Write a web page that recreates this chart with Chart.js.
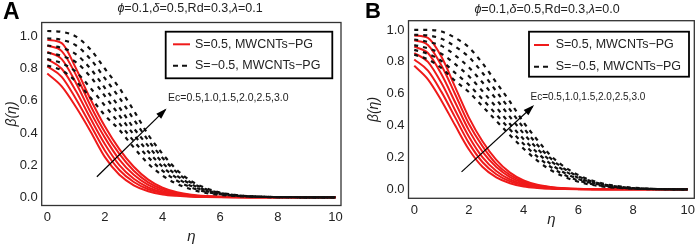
<!DOCTYPE html>
<html>
<head>
<meta charset="utf-8">
<script src="https://cdn.jsdelivr.net/npm/chart.js@4.4.0/dist/chart.umd.min.js"></script>
<style>
  body { margin:0; background:#fff; width:699px; height:246px; overflow:hidden; position:relative; font-family:"Liberation Sans", Arial, sans-serif; }
  canvas { position:absolute; top:0; }
  .tag { position:absolute; font-weight:bold; line-height:1; color:#000; }
  .ttl { position:absolute; font-size:12.5px; line-height:12.5px; color:#222; white-space:nowrap; transform:translateX(-50%); }
</style>
</head>
<body>
<canvas id="chartA" width="349" height="246" style="left:0;width:349px;height:246px"></canvas>
<canvas id="chartB" width="350" height="246" style="left:349px;width:350px;height:246px"></canvas>
<div class="tag" style="left:3px;top:0;font-size:23px">A</div>
<div class="tag" style="left:365px;top:0;font-size:22px">B</div>
<div class="ttl" style="left:190px;top:2px"><i>ϕ</i>=0.1,<i>δ</i>=0.5,Rd=0.3,<i>λ</i>=0.1</div>
<div class="ttl" style="left:547px;top:3px"><i>ϕ</i>=0.1,<i>δ</i>=0.5,Rd=0.3,<i>λ</i>=0.0</div>
<script>
// eta grid shared by every curve
const eta = [0,0.5,1,1.5,2,2.5,3,3.5,4,4.5,5,5.5,6,6.5,7,7.5,8,8.5,9,9.5,10];
const xTicks = [0,2,4,6,8,10];
const yTicks = [0,0.2,0.4,0.6,0.8,1.0];
const ecLabel = 'Ec=0.5,1.0,1.5,2.0,2.5,3.0';
const legendLabels = ['S=0.5, MWCNTs\u2212PG', 'S=\u22120.5, MWCNTs\u2212PG'];

// panel A (lambda = 0.1), S = 0.5, Ec = 0.5 .. 3.0
const aRed05 = [0.77,0.69,0.56,0.41,0.25,0.14,0.075,0.038,0.018,0.009,0.004,0.002,0.001,0.0005,0,0,0,0,0,0,0];
const aRed10 = [0.815,0.75,0.61,0.45,0.29,0.17,0.095,0.05,0.025,0.012,0.006,0.003,0.0015,0.0007,0.0003,0,0,0,0,0,0];
const aRed15 = [0.86,0.80,0.66,0.49,0.33,0.20,0.115,0.062,0.032,0.016,0.008,0.004,0.002,0.001,0.0004,0,0,0,0,0,0];
const aRed20 = [0.905,0.86,0.71,0.53,0.37,0.235,0.14,0.077,0.04,0.021,0.01,0.005,0.0025,0.0012,0.0005,0,0,0,0,0,0];
const aRed25 = [0.945,0.91,0.76,0.57,0.405,0.27,0.165,0.093,0.05,0.026,0.013,0.0065,0.003,0.0015,0.0006,0,0,0,0,0,0];
const aRed30 = [0.98,0.96,0.80,0.61,0.44,0.30,0.19,0.11,0.06,0.032,0.016,0.008,0.004,0.002,0.0008,0.0003,0,0,0,0,0];
// panel A, S = -0.5
const aBlk05 = [0.82,0.79,0.72,0.62,0.51,0.42,0.31,0.21,0.135,0.083,0.049,0.027,0.015,0.008,0.004,0.002,0.001,0.0005,0,0,0];
const aBlk10 = [0.86,0.835,0.78,0.68,0.57,0.46,0.35,0.25,0.165,0.103,0.061,0.034,0.019,0.01,0.005,0.0025,0.001,0.0005,0,0,0];
const aBlk15 = [0.90,0.88,0.84,0.75,0.63,0.51,0.39,0.285,0.19,0.12,0.07,0.04,0.021,0.011,0.0055,0.0027,0.0012,0.0005,0,0,0];
const aBlk20 = [0.945,0.93,0.89,0.80,0.68,0.56,0.43,0.32,0.215,0.135,0.08,0.045,0.024,0.012,0.006,0.003,0.0013,0.0005,0,0,0];
const aBlk25 = [0.99,0.98,0.945,0.86,0.74,0.62,0.485,0.355,0.245,0.155,0.09,0.051,0.027,0.014,0.0065,0.003,0.0014,0.0005,0,0,0];
const aBlk30 = [1.035,1.03,1.0,0.92,0.80,0.68,0.54,0.39,0.27,0.17,0.10,0.057,0.03,0.015,0.007,0.003,0.0015,0.0005,0,0,0];

// panel B (lambda = 0.0), S = 0.5
const bRed05 = [0.775,0.69,0.555,0.40,0.25,0.14,0.075,0.038,0.018,0.009,0.004,0.002,0.001,0.0005,0,0,0,0,0,0,0];
const bRed10 = [0.815,0.745,0.61,0.45,0.29,0.17,0.095,0.05,0.025,0.012,0.006,0.003,0.0015,0.0007,0.0003,0,0,0,0,0,0];
const bRed15 = [0.855,0.80,0.665,0.495,0.33,0.20,0.115,0.062,0.032,0.016,0.008,0.004,0.002,0.001,0.0004,0,0,0,0,0,0];
const bRed20 = [0.895,0.855,0.72,0.545,0.37,0.235,0.14,0.077,0.04,0.021,0.01,0.005,0.0025,0.0012,0.0005,0,0,0,0,0,0];
const bRed25 = [0.935,0.905,0.775,0.595,0.41,0.27,0.16,0.09,0.048,0.025,0.012,0.006,0.003,0.0015,0.0006,0,0,0,0,0,0];
const bRed30 = [0.965,0.95,0.83,0.64,0.45,0.30,0.185,0.105,0.056,0.029,0.015,0.007,0.0035,0.0017,0.0007,0.0003,0,0,0,0,0];
// panel B, S = -0.5
const bBlk05 = [0.845,0.815,0.76,0.68,0.61,0.52,0.43,0.34,0.255,0.18,0.12,0.078,0.048,0.028,0.016,0.009,0.004,0.002,0.001,0,0];
const bBlk10 = [0.875,0.85,0.805,0.73,0.655,0.565,0.47,0.375,0.285,0.205,0.14,0.09,0.056,0.033,0.019,0.01,0.005,0.0025,0.001,0.0005,0];
const bBlk15 = [0.905,0.885,0.85,0.785,0.71,0.615,0.515,0.41,0.315,0.23,0.158,0.103,0.065,0.039,0.023,0.012,0.006,0.003,0.0012,0.0005,0];
const bBlk20 = [0.94,0.925,0.90,0.84,0.765,0.67,0.565,0.455,0.35,0.255,0.177,0.116,0.073,0.044,0.026,0.014,0.007,0.0035,0.0015,0.0005,0];
const bBlk25 = [0.97,0.965,0.945,0.895,0.83,0.73,0.615,0.50,0.385,0.28,0.193,0.128,0.081,0.049,0.029,0.016,0.008,0.004,0.0017,0.0006,0];
const bBlk30 = [1.0,1.0,0.99,0.95,0.89,0.79,0.67,0.55,0.42,0.31,0.21,0.14,0.09,0.055,0.033,0.019,0.01,0.005,0.002,0.001,0];

// direction arrows (eta, beta)
const arrowA = [[1.72,0.128],[4.09,0.544]];
const arrowB = [[1.73,0.11],[4.33,0.52]];
const ecAtA = [4.19,0.616];
const ecAtB = [4.25,0.58];

const FONT = '"Liberation Sans", Arial, sans-serif';
const RED = '#ef1a1a';
const BLK = '#111';

const pts = arr => eta.map((e, i) => ({x: e, y: arr[i]}));

// frame, arrow head, Ec label and boxed legend
const decor = {
  id: 'decor',
  afterDatasetsDraw(chart, args, o) {
    const {ctx, chartArea: a, scales: {x, y}} = chart;
    ctx.save();
    ctx.strokeStyle = '#333';
    ctx.lineWidth = 1.3;
    ctx.strokeRect(a.left, a.top, a.right - a.left, a.bottom - a.top);

    const m = chart.getDatasetMeta(0).data;
    const p0 = m[0], p1 = m[1];
    const ang = Math.atan2(p1.y - p0.y, p1.x - p0.x);
    ctx.fillStyle = '#000';
    ctx.beginPath();
    ctx.moveTo(p1.x + 2 * Math.cos(ang), p1.y + 2 * Math.sin(ang));
    ctx.lineTo(p1.x - 9 * Math.cos(ang) + 3.5 * Math.sin(ang), p1.y - 9 * Math.sin(ang) - 3.5 * Math.cos(ang));
    ctx.lineTo(p1.x - 9 * Math.cos(ang) - 3.5 * Math.sin(ang), p1.y - 9 * Math.sin(ang) + 3.5 * Math.cos(ang));
    ctx.closePath();
    ctx.fill();

    ctx.fillStyle = '#222';
    ctx.font = o.ecFont + 'px ' + FONT;
    ctx.textBaseline = 'middle';
    ctx.textAlign = 'left';
    ctx.fillText(ecLabel, x.getPixelForValue(o.ecAt[0]), y.getPixelForValue(o.ecAt[1]));

    const L = o.legend;
    ctx.strokeStyle = '#000';
    ctx.lineWidth = 1.8;
    ctx.strokeRect(L.x, L.y, L.w, L.h);
    ctx.lineWidth = 2;
    ctx.strokeStyle = RED;
    ctx.beginPath(); ctx.moveTo(L.lineX, L.row1); ctx.lineTo(L.lineX + L.lineLen, L.row1); ctx.stroke();
    ctx.strokeStyle = BLK;
    ctx.setLineDash([5, 4]);
    ctx.beginPath(); ctx.moveTo(L.lineX, L.row2); ctx.lineTo(L.lineX + L.lineLen, L.row2); ctx.stroke();
    ctx.setLineDash([]);
    ctx.font = '12.5px ' + FONT;
    ctx.fillStyle = '#222';
    ctx.fillText(legendLabels[0], L.textX, L.row1);
    ctx.fillText(legendLabels[1], L.textX, L.row2);
    ctx.restore();
  }
};

function makePanel(id, reds, blacks, arrow, g) {
  const datasets = [{
    data: arrow.map(p => ({x: p[0], y: p[1]})),
    borderColor: '#000', borderWidth: 1.2, pointRadius: 0, tension: 0
  }];
  blacks.forEach(arr => datasets.push({
    data: pts(arr), borderColor: BLK, borderWidth: 2.2, borderDash: [4, 5],
    pointRadius: 0, cubicInterpolationMode: 'monotone'
  }));
  reds.forEach(arr => datasets.push({
    data: pts(arr), borderColor: RED, borderWidth: 2,
    pointRadius: 0, cubicInterpolationMode: 'monotone'
  }));

  new Chart(document.getElementById(id), {
    type: 'line',
    data: { datasets },
    plugins: [decor],
    options: {
      animation: false, responsive: false, devicePixelRatio: 1,
      layout: { padding: { left: 0, top: g.padTop, right: g.padRight, bottom: g.padBottom } },
      plugins: {
        legend: { display: false }, tooltip: { enabled: false },
        decor: { ecAt: g.ecAt, ecFont: g.ecFont, legend: g.legend }
      },
      scales: {
        x: {
          type: 'linear', min: g.xMin, max: g.xMax,
          afterFit: s => { s.height = g.xHeight; },
          afterBuildTicks: s => { s.ticks = xTicks.map(v => ({value: v})); },
          grid: { display: false, drawTicks: false }, border: { display: false },
          ticks: { padding: 4, autoSkip: false, maxRotation: 0, color: '#222',
                   font: { family: FONT, size: 13 }, callback: v => String(v) },
          title: { display: true, text: '\u03b7', color: '#222',
                   font: { family: FONT, size: 15, style: 'italic' }, padding: { top: 0, bottom: 0 } }
        },
        y: {
          type: 'linear', min: g.yMin, max: g.yMax,
          afterFit: s => { s.width = g.yWidth; },
          afterBuildTicks: s => { s.ticks = yTicks.map(v => ({value: v})); },
          grid: { display: false, drawTicks: false }, border: { display: false },
          ticks: { padding: 4, autoSkip: false, color: '#222',
                   font: { family: FONT, size: 13 }, callback: v => v.toFixed(1) },
          title: { display: true, text: '\u03b2(\u03b7)', color: '#222',
                   font: { family: FONT, size: 14, style: 'italic' }, padding: { top: g.yTitlePad, bottom: 0 } }
        }
      }
    }
  });
}

makePanel('chartA',
  [aRed05, aRed10, aRed15, aRed20, aRed25, aRed30],
  [aBlk05, aBlk10, aBlk15, aBlk20, aBlk25, aBlk30],
  arrowA,
  { padTop: 22.5, padRight: 8, padBottom: 0, yWidth: 41.7, xHeight: 40.5,
    xMin: -0.194, xMax: 10.19, yMin: -0.051, yMax: 1.088, yTitlePad: 4,
    ecAt: ecAtA, ecFont: 10.5,
    legend: { x: 165.7, y: 31.7, w: 166.6, h: 46.6, row1: 44.3, row2: 65.7, lineX: 173, lineLen: 17, textX: 195 } });

makePanel('chartB',
  [bRed05, bRed10, bRed15, bRed20, bRed25, bRed30],
  [bBlk05, bBlk10, bBlk15, bBlk20, bBlk25, bBlk30],
  arrowB,
  { padTop: 20.7, padRight: 1.3, padBottom: 17.6, yWidth: 59.5, xHeight: 30.1,
    xMin: -0.21, xMax: 10.24, yMin: -0.056, yMax: 1.058, yTitlePad: 16.5,
    ecAt: ecAtB, ecFont: 10,
    legend: { x: 180, y: 31.7, w: 160, h: 45, row1: 45, row2: 66.7, lineX: 185, lineLen: 15, textX: 206.7 } });
</script>
</body>
</html>
